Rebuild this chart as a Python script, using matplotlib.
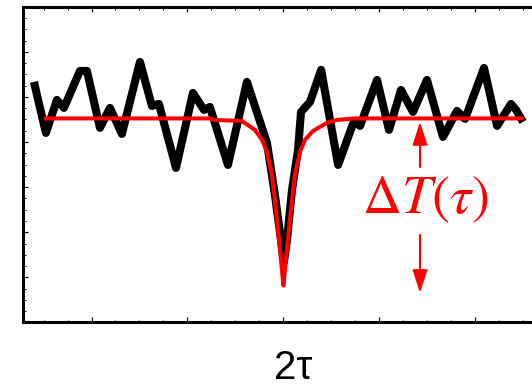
import matplotlib
matplotlib.use("Agg")
import matplotlib.pyplot as plt
from matplotlib.ticker import MultipleLocator, NullFormatter
from matplotlib.patches import FancyArrowPatch

plt.rcParams['mathtext.fontset'] = 'stix'

# ---- data (arbitrary units) ----
signal_x = [0.399, 0.524, 0.639, 0.712, 0.879, 0.952, 1.088, 1.192, 1.317, 1.505,
            1.630, 1.703, 1.881, 2.058, 2.173, 2.235, 2.423, 2.621, 2.830, 2.913,
            2.976, 3.007, 3.039, 3.091, 3.154, 3.185, 3.279, 3.395, 3.572, 3.738,
            3.801, 3.978, 4.103, 4.228, 4.353, 4.499, 4.666, 4.812, 4.896, 5.094,
            5.230, 5.376, 5.428, 5.501]
signal_y = [5.333, 4.202, 4.933, 4.756, 5.576, 5.576, 4.313, 4.756, 4.180, 5.776,
            4.800, 4.845, 3.426, 5.089, 4.712, 4.778, 3.492, 5.333, 3.980, 2.827,
            1.829, 1.341, 1.829, 2.938, 3.825, 4.667, 4.889, 5.599, 3.492, 4.468,
            4.357, 5.377, 4.268, 5.155, 4.667, 5.377, 4.113, 4.690, 4.512, 5.643,
            4.357, 4.845, 4.712, 4.446]

fit_x = [0.503, 2.235, 2.277, 2.569, 2.705, 2.778, 2.830, 2.882, 2.924, 2.955,
         2.986, 3.002, 3.017, 3.048, 3.080, 3.122, 3.174, 3.226, 3.310, 3.456,
         3.560, 3.748, 5.511]
fit_y = [4.523, 4.523, 4.490, 4.468, 4.268, 4.047, 3.780, 3.271, 2.494, 1.829,
         1.164, 0.820, 1.164, 1.829, 2.494, 3.271, 3.780, 4.047, 4.246, 4.424,
         4.490, 4.523, 4.523]

arrow_x = 4.426
arrow_up = (3.448, 4.446)     # tail, tip
arrow_down = (1.940, 0.654)   # tail, tip
label_pos = (4.480, 2.428)
label_text = r'$\Delta T(\tau)$'
xlabel_text = '2τ'

# ---- figure ----
fig = plt.figure(figsize=(5.32, 3.89), dpi=100)
ax = fig.add_axes([0.0423, 0.171, 1.016, 0.8118])

ax.plot(signal_x, signal_y, color='black', lw=5.8,
        solid_joinstyle='round', solid_capstyle='butt', zorder=2)
ax.plot(fit_x, fit_y, color='#ff0000', lw=2.9,
        solid_joinstyle='round', solid_capstyle='butt', zorder=3)

for tail, tip in (arrow_up, arrow_down):
    arr = FancyArrowPatch((arrow_x, tail), (arrow_x, tip),
                          arrowstyle='-|>,head_length=14,head_width=4.5',
                          mutation_scale=1, color='#ff0000', lw=1.5,
                          shrinkA=0, shrinkB=0, zorder=4)
    ax.add_patch(arr)

ax.text(label_pos[0], label_pos[1], label_text, color='#ff0000',
        fontsize=39, ha='center', va='baseline')

ax.set_xlim(0.28, 5.918)
ax.set_ylim(0, 7)

ax.xaxis.set_major_locator(MultipleLocator(1))
ax.xaxis.set_minor_locator(MultipleLocator(0.25))
ax.yaxis.set_major_locator(MultipleLocator(1))
ax.yaxis.set_minor_locator(MultipleLocator(0.25))
ax.xaxis.set_major_formatter(NullFormatter())
ax.yaxis.set_major_formatter(NullFormatter())
ax.tick_params(which='both', direction='in', top=True, right=True,
               labelbottom=False, labelleft=False)
ax.tick_params(which='major', length=3.5, width=0.9)
ax.tick_params(which='minor', length=1.8, width=0.7)

for sp in ax.spines.values():
    sp.set_linewidth(2.2)

ax.set_xlabel(xlabel_text, fontsize=29, family=['Liberation Sans', 'DejaVu Sans'],
              va='baseline')
ax.xaxis.set_label_coords((292.7 - 22.5) / (1.016 * 532), -(379 - 322.5) / 315.8)

fig.savefig('out.png', dpi=100)
